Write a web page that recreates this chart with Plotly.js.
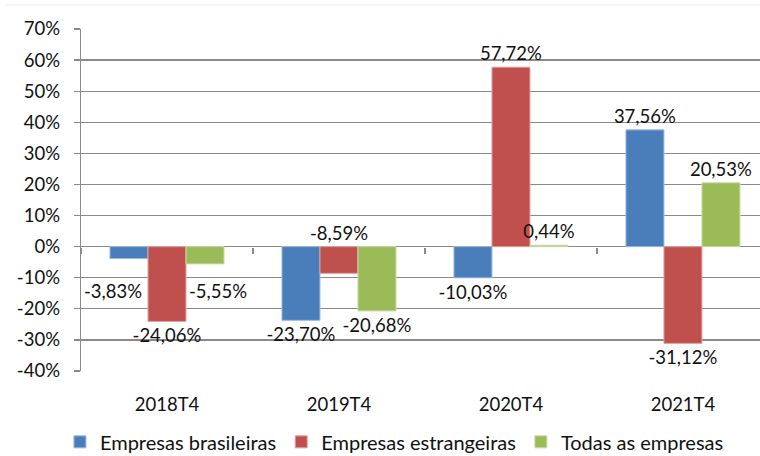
<!DOCTYPE html>
<html>
<head>
<meta charset="utf-8">
<script src="https://cdn.plot.ly/plotly-3.0.1.min.js"></script>
<style>
html,body{margin:0;padding:0;background:#fff;}
#chart{width:760px;height:456px;}
</style>
</head>
<body>
<div id="chart"></div>
<script>
const categories = ['2018T4', '2019T4', '2020T4', '2021T4'];
const seriesNames = ['Empresas brasileiras', 'Empresas estrangeiras', 'Todas as empresas'];
const brasileiras = [-3.83, -23.70, -10.03, 37.56];
const estrangeiras = [-24.06, -8.59, 57.72, -31.12];
const todas = [-5.55, -20.68, 0.44, 20.53];
const tickValues = [-40, -30, -20, -10, 0, 10, 20, 30, 40, 50, 60, 70];
const tickLabels = ['-40%', '-30%', '-20%', '-10%', '0%', '10%', '20%', '30%', '40%', '50%', '60%', '70%'];

const colors = ['#4A7EBB', '#C0504D', '#9BBB59'];
const edgeColors = ['#9DB9DE', '#E0A3A1', '#C9DBA8'];
const FONT = 'Lato, "Noto Sans", sans-serif';
const FS = 18.5;
const TXT = '#111111';
const GRID = '#8A8A8A';

function fmt(v) { return v.toFixed(2).replace('.', ',') + '%'; }

// labels that Excel moved away from the default outside-end spot
// [seriesIndex, categoryIndex, xshift, yshift, yanchor]
const movedLabels = [
  [0, 0, -54, -44, 'middle'],
  [2, 0, 51, -44, 'middle'],
  [1, 1, 0, 1, 'bottom']
];

const allSeries = [brasileiras, estrangeiras, todas];
const traces = allSeries.map((vals, s) => {
  const positions = vals.map((v, i) =>
    movedLabels.some(m => m[0] === s && m[1] === i) ? 'none' : 'outside');
  return {
    type: 'bar',
    name: seriesNames[s],
    x: categories,
    y: vals,
    text: vals.map(fmt),
    textposition: positions,
    textfont: {family: FONT, size: FS, color: TXT},
    cliponaxis: false,
    constraintext: 'none',
    marker: {color: colors[s], line: {color: edgeColors[s], width: 1}},
    hoverinfo: 'skip'
  };
});

// helper trace for the category-boundary ticks on the zero line
traces.push({
  type: 'scatter', x: categories, y: categories.map(() => null),
  xaxis: 'x2', yaxis: 'y', showlegend: false, hoverinfo: 'skip', mode: 'markers'
});

const annotations = movedLabels.map(m => {
  const vals = allSeries[m[0]];
  return {
    x: categories[m[1]], y: 0, xref: 'x', yref: 'y',
    text: fmt(vals[m[1]]), showarrow: false,
    xshift: m[2], yshift: m[3], yanchor: m[4],
    font: {family: FONT, size: FS, color: TXT}
  };
});

const xr = [-0.5, 3.448];
const layout = {
  width: 760, height: 456,
  margin: {l: 81, r: 0, t: 29, b: 85},
  paper_bgcolor: '#fff', plot_bgcolor: '#fff',
  font: {family: FONT, size: FS, color: TXT},
  barmode: 'group', bargap: 0.337, bargroupgap: 0,
  showlegend: true,
  legend: {orientation: 'h', xref: 'container', yref: 'container',
           x: 0.519, xanchor: 'center', y: 0.031, yanchor: 'middle',
           font: {family: FONT, size: 20, color: TXT}, itemwidth: 30},
  xaxis: {type: 'category', range: xr, showgrid: false, showline: false, zeroline: false,
          ticks: '', ticklabelstandoff: 20, tickfont: {family: FONT, size: FS, color: TXT}},
  xaxis2: {type: 'category', overlaying: 'x', anchor: 'free', position: 40 / 110, range: xr,
           showticklabels: false, showgrid: false, showline: false, zeroline: false,
           ticks: 'outside', tickson: 'boundaries', ticklen: 6, tickcolor: GRID, tickwidth: 1.3},
  yaxis: {range: [-40, 70], tickvals: tickValues, ticktext: tickLabels,
          showgrid: true, gridcolor: GRID, gridwidth: 1.3, zeroline: false,
          showline: true, linecolor: GRID, linewidth: 1.3,
          ticks: 'outside', ticklen: 6, tickcolor: GRID, tickwidth: 1.3,
          ticklabelstandoff: 10, tickfont: {family: FONT, size: FS, color: TXT}},
  annotations: annotations,
  shapes: [{type: 'line', xref: 'paper', yref: 'paper', x0: -0.11, x1: 1.0, y0: 1.07, y1: 1.07,
            line: {color: '#ECECEC', width: 1}}]
};

Plotly.newPlot('chart', traces, layout, {staticPlot: true, displayModeBar: false});
</script>
</body>
</html>
